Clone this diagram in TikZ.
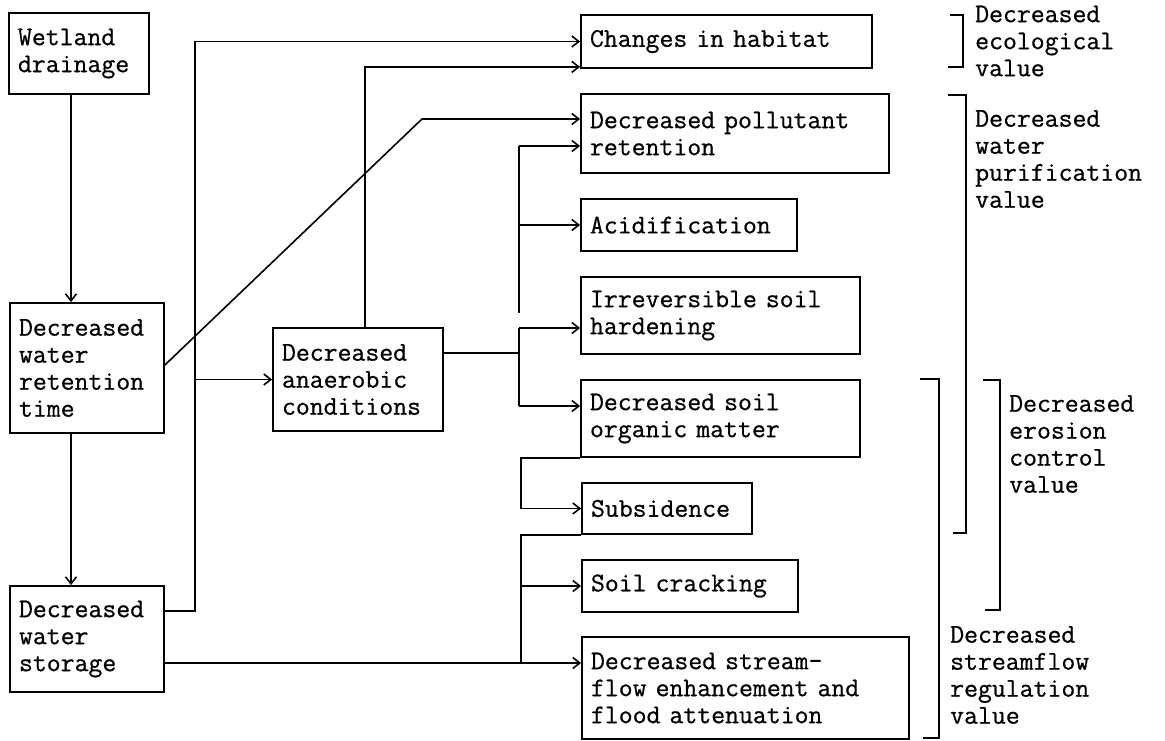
\documentclass[tikz,border=0pt]{standalone}
\usepackage{fontspec}
\usetikzlibrary{arrows.meta}
\newfontfamily\tw{Latin Modern Mono}[FakeBold=0.7]
\begin{document}
\begin{tikzpicture}[x=1pt,y=-1pt,
  every node/.style={font=\tw\fontsize{27pt}{27pt}\selectfont},
  box/.style={draw, line width=1.8pt, inner xsep=9pt, inner ysep=0pt,
              align=left, anchor=center},
  lbl/.style={inner sep=0pt, anchor=west, align=left},
  conn/.style={line width=1.6pt},
  arr/.style={conn, -{Straight Barb[length=7pt,width=11pt,line width=1.6pt]}},
  brk/.style={line width=1.6pt}]
\useasboundingbox (0,0) rectangle (1165,741);

% boxes: centre, width, height (text width = width - 18)
\newcommand{\bx}[6]{\node[box, minimum width=#4pt, minimum height=#5pt,
  text width=\dimexpr#4pt-18pt\relax] (#1) at (#2,#3) {#6};}

\bx{wet}{79}{53.5}{140}{81}{Wetland\\drainage}
\bx{ret}{87}{368}{154}{130}{Decreased\\water\\retention\\time}
\bx{sto}{87}{639}{154}{106}{Decreased\\water\\storage}
\bx{ana}{358}{379.5}{170}{103}{Decreased\\anaerobic\\conditions}
\bx{hab}{726.5}{41.5}{291}{53}{Changes~in~habitat}
\bx{pol}{735}{133.5}{308}{79}{Decreased~pollutant\\retention}
\bx{acid}{689}{225}{216}{52}{Acidification}
\bx{irr}{720.5}{315.5}{279}{77}{Irreversible~soil\\hardening}
\bx{org}{720.5}{418.5}{279}{77}{Decreased~soil\\organic~matter}
\bx{sub}{667}{508.5}{170}{51}{Subsidence}
\bx{crk}{690}{586}{216}{52}{Soil~cracking}
\bx{str}{745.5}{688}{327}{102}{Decreased~stream-\\flow~enhancement~and\\flood~attenuation}

% value labels
\node[lbl] (ecoL) at (975,41) {Decreased\\ecological\\value};
\node[lbl] (purL) at (975,159) {Decreased\\water\\purification\\value};
\node[lbl] (eroL) at (1009,444) {Decreased\\erosion\\control\\value};
\node[lbl] (strL) at (950,675) {Decreased\\streamflow\\regulation\\value};

% trunk lines
\coordinate (xA) at (71,0);
\coordinate (xB) at (195,0);
\coordinate (xC) at (519,0);
\coordinate (xD) at (521,0);

% drainage chain
\draw[arr] (wet.south -| xA) -- (ret.north -| xA);
\draw[arr] (ret.south -| xA) -- (sto.north -| xA);

% storage riser to habitat and anaerobic conditions
\draw[arr] ([yshift=28pt]sto.east) -| (xB |- hab.west) -- (hab.west);
\draw[arr] (xB |- ana.west) -- (ana.west);

% retention time to pollutant retention
\draw[arr] ([yshift=3pt]ret.east) -- (422,119) -- ([yshift=14.5pt]pol.west);

% anaerobic conditions to habitat
\draw[arr] ([xshift=7pt]ana.north) |- ([yshift=2pt]hab.south west);

% anaerobic conditions fan-out
\coordinate (aE) at ([yshift=26.5pt]ana.east);
\coordinate (pIn) at ([yshift=-12.5pt]pol.west);
\coordinate (iIn) at ([yshift=-12.5pt]irr.west);
\coordinate (oIn) at ([yshift=12.5pt]org.west);
\draw[conn] (aE) -- (aE -| xC);
\draw[arr] (pIn -| xC) -- (pIn);
\draw[conn] (pIn -| xC) -- ++(0,167);
\draw[arr] (xC |- acid.west) -- (acid.west);
\draw[arr] (iIn -| xC) -- (iIn);
\draw[conn] (iIn -| xC) -- (oIn -| xC);
\draw[arr] (oIn -| xC) -- (oIn);

% organic matter to subsidence
\draw[arr] (org.south west) -- (org.south west -| xD) |- (sub.west);

% storage to streamflow, subsidence to cracking and streamflow
\coordinate (sOut) at ([yshift=-24pt]sto.east);
\coordinate (sIn) at ([yshift=25pt]str.west);
\draw[arr] (sOut) -- (sIn);
\draw[conn] (sub.south west) -- (sub.south west -| xD) -- (xD |- sIn);
\draw[arr] (xD |- crk.west) -- (crk.west);

% value brackets
\draw[brk] (950,15) -- (963,15) -- (963,67) -- (948,67);
\draw[brk] (948,95) -- (966,95) -- (966,533) -- (953,533);
\draw[brk] (920,379) -- (939,379) -- (939,738) -- (923,738);
\draw[brk] (983,380) -- (1000,380) -- (1000,610) -- (985,610);
\end{tikzpicture}
\end{document}
